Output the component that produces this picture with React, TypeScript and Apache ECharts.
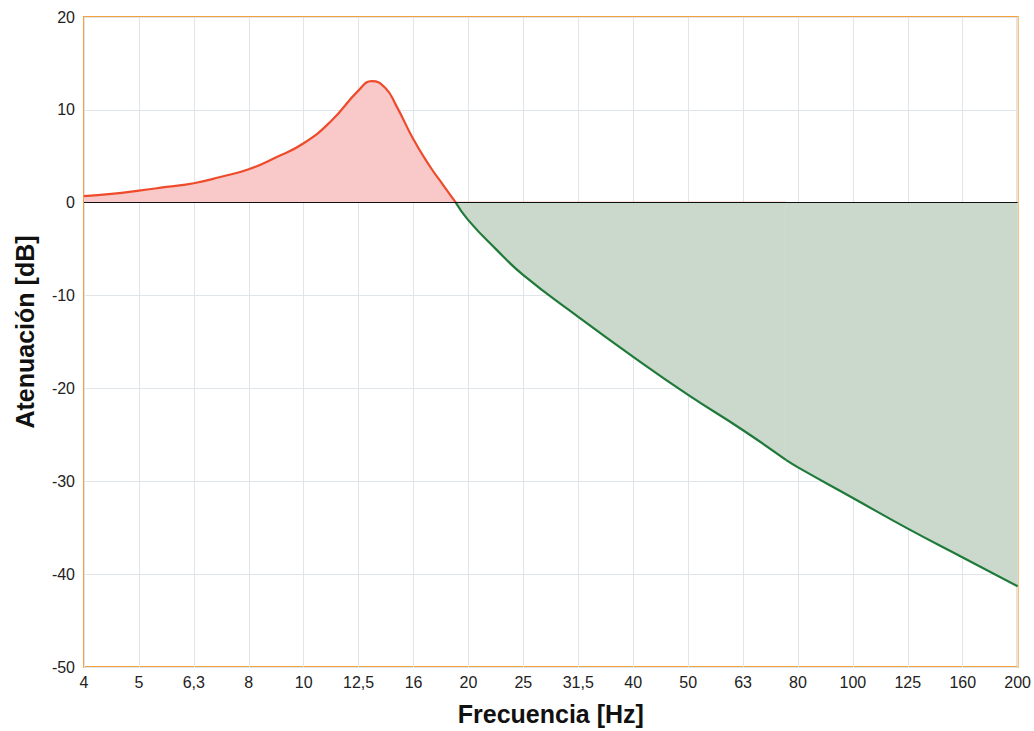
import React, { useEffect, useRef } from "react";
import * as echarts from "echarts";

const FREQ_LABELS = ["4", "5", "6,3", "8", "10", "12,5", "16", "20", "25", "31,5", "40", "50", "63", "80", "100", "125", "160", "200"];
const Y_MIN = -50;
const Y_MAX = 20;
const Y_STEP = 10;

// positions along the third-octave band axis (band index), with values in dB
const RED_X = [0, 0.5, 1, 1.5, 2, 2.5, 3, 3.5, 4, 4.5, 5, 5.24, 5.48, 5.69, 6, 6.3, 6.54, 6.77];
const RED_Y = [0.7, 0.95, 1.3, 1.7, 2.1, 2.8, 3.6, 4.9, 6.4, 8.8, 12.1, 13.1, 12.4, 10.4, 6.8, 3.9, 1.9, 0];

const RED_FLAT_X = [6.77, 12.78];
const RED_FLAT_Y = [0, 0];

const GREEN_X = [6.77, 7, 7.5, 8, 9, 10, 11, 12, 12.78];
const GREEN_Y = [0, -1.9, -5.0, -7.8, -12.3, -16.6, -20.7, -24.5, -27.7];
const GREEN2_X = [12.78, 13, 14, 15, 16, 17];
const GREEN2_Y = [-27.7, -28.5, -31.8, -35.1, -38.2, -41.3];

const zip = (xs: number[], ys: number[]) => xs.map((x, i) => [x, ys[i]]);

export default function App() {
  const ref = useRef<HTMLDivElement>(null);
  useEffect(() => {
    if (!ref.current) return;
    const chart = echarts.init(ref.current, null, { renderer: "svg" });
    const font = "Liberation Sans, Arial, sans-serif";
    const green = (data: number[][]) => ({
      type: "line",
      data,
      smooth: 0.5,
      showSymbol: false,
      lineStyle: { color: "#1f7a3a", width: 2.2 },
      areaStyle: { color: "#cbd9cc", opacity: 1 },
      z: 3,
    });
    chart.setOption({
      animation: false,
      backgroundColor: "#ffffff",
      grid: {
        left: 84,
        right: 16,
        top: 17,
        bottom: 62,
        show: true,
        borderColor: "#f5a13c",
        borderWidth: 2,
        backgroundColor: "transparent",
      },
      xAxis: {
        type: "value",
        min: 0,
        max: FREQ_LABELS.length - 1,
        interval: 1,
        name: "Frecuencia [Hz]",
        nameLocation: "middle",
        nameGap: 34,
        nameTextStyle: { fontFamily: font, fontSize: 25, fontWeight: "bold", color: "#111" },
        axisLine: { show: false },
        axisTick: { show: false },
        axisLabel: {
          margin: 7,
          fontFamily: font,
          fontSize: 16,
          color: "#222",
          formatter: (v: number) => FREQ_LABELS[Math.round(v)] ?? "",
        },
        splitLine: { show: true, lineStyle: { color: "#e0e5ea", width: 1 } },
      },
      yAxis: {
        type: "value",
        min: Y_MIN,
        max: Y_MAX,
        interval: Y_STEP,
        name: "Atenuación [dB]",
        nameLocation: "middle",
        nameGap: 47,
        nameTextStyle: { fontFamily: font, fontSize: 25, fontWeight: "bold", color: "#111", padding: [0, 0, 0, 20] },
        axisLine: { show: false },
        axisTick: { show: false },
        axisLabel: { margin: 9, fontFamily: font, fontSize: 16, color: "#222" },
        splitLine: { show: true, lineStyle: { color: "#e0e5ea", width: 1 } },
      },
      series: [
        {
          type: "line",
          data: zip(RED_X, RED_Y),
          smooth: 0.5,
          showSymbol: false,
          lineStyle: { color: "#ee4b2b", width: 2.2 },
          areaStyle: { color: "#f9c9c9", opacity: 1 },
          z: 3,
        },
        {
          type: "line",
          data: zip(RED_FLAT_X, RED_FLAT_Y),
          showSymbol: false,
          lineStyle: { color: "#f08a70", width: 2 },
          z: 2,
        },
        green(zip(GREEN_X, GREEN_Y)),
        {
          ...green(zip(GREEN2_X, GREEN2_Y)),
          markLine: {
            silent: true,
            symbol: "none",
            label: { show: false },
            lineStyle: { color: "#111", width: 1.2, type: "solid" },
            data: [{ yAxis: 0 }],
            z: 5,
          },
        },
      ],
    });
    return () => chart.dispose();
  }, []);
  return (
    <div
      ref={ref}
      style={{ position: "fixed", left: 0, top: 0, width: 1034, height: 731, background: "#fff" }}
    />
  );
}
